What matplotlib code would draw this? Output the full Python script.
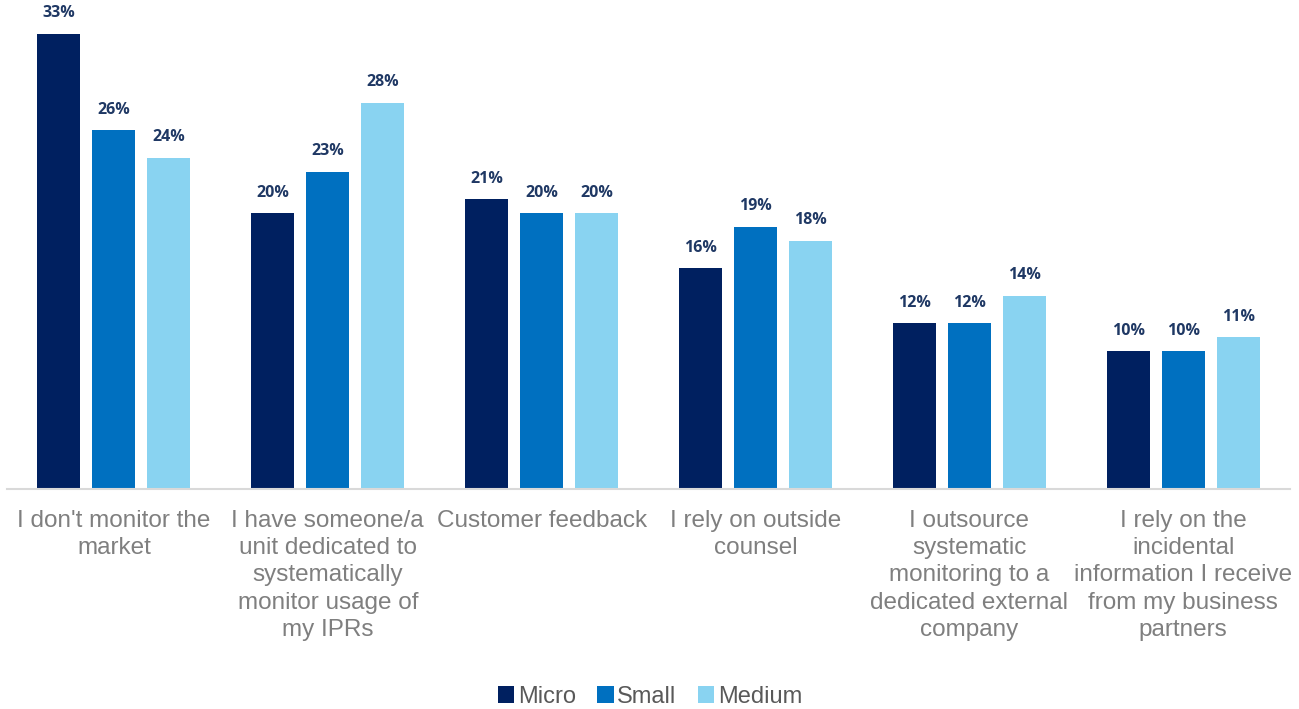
import matplotlib.pyplot as plt
import numpy as np

categories = [
    "I don't monitor the\nmarket",
    "I have someone/a\nunit dedicated to\nsystematically\nmonitor usage of\nmy IPRs",
    "Customer feedback",
    "I rely on outside\ncounsel",
    "I outsource\nsystematic\nmonitoring to a\ndedicated external\ncompany",
    "I rely on the\nincidental\ninformation I receive\nfrom my business\npartners",
]
micro = [33, 20, 21, 16, 12, 10]
small = [26, 23, 20, 19, 12, 10]
medium = [24, 28, 20, 18, 14, 11]

series = [("Micro", micro, "#002060"), ("Small", small, "#0070C0"), ("Medium", medium, "#89D3F1")]

fig = plt.figure(figsize=(12.99, 7.09), dpi=100)
ax = fig.add_axes([7 / 1299, 220 / 709, 1283 / 1299, 489 / 709])

x = np.arange(len(categories))
step = 0.257
width = 0.201
for i, (name, vals, col) in enumerate(series):
    pos = x + (i - 1) * step
    bars = ax.bar(pos, vals, width, color=col, label=name)
    for b, v in zip(bars, vals):
        ax.text(b.get_x() + b.get_width() / 2, v + 0.9, f"{v}%", ha="center", va="bottom",
                fontsize=11.5, fontweight="bold", color="#1F3864", family="Open Sans")

ax.set_xlim(-0.5, len(categories) - 0.5)
ax.set_ylim(0, 35.43)
ax.set_xticks(x)
ax.set_xticklabels(categories, fontsize=17.5, color="#7F7F7F", family="Liberation Sans", linespacing=1.31)
ax.tick_params(axis="x", length=0, pad=15)
ax.set_yticks([])
for s in ["top", "right", "left"]:
    ax.spines[s].set_visible(False)
ax.spines["bottom"].set_color("#D9D9D9")
ax.spines["bottom"].set_linewidth(1.5)

leg = fig.legend(loc="center", bbox_to_anchor=(650 / 1299, 1 - 697 / 709), ncol=3, frameon=False,
                 prop={"family": "Liberation Sans", "size": 17}, handlelength=0.7, handleheight=0.7,
                 handletextpad=0.15, columnspacing=0.9)
for t in leg.get_texts():
    t.set_color("#595959")

fig.savefig("out.png", dpi=100)
